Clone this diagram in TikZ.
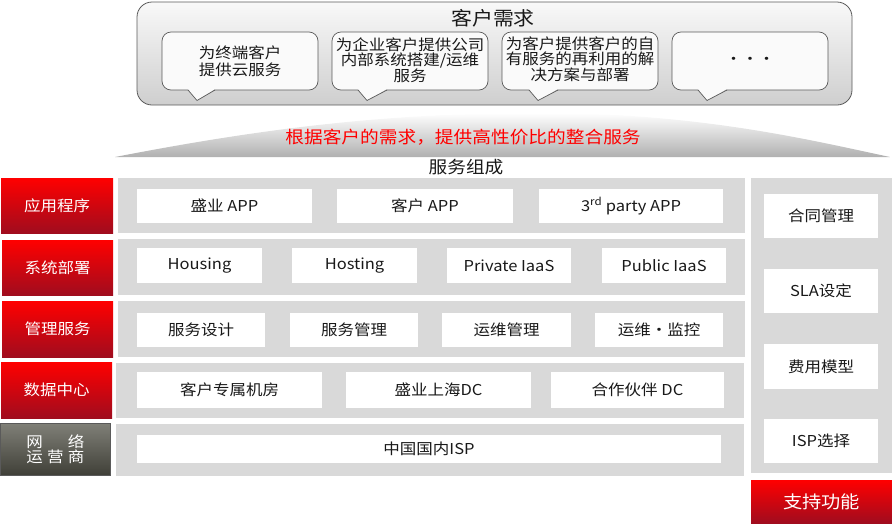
\documentclass[tikz,border=0pt]{standalone}
\usepackage{fontspec}
\setmainfont[FakeStretch=1.1]{Noto Sans CJK SC}
\definecolor{redtop}{RGB}{255,0,0}
\definecolor{redmid}{RGB}{214,14,22}
\definecolor{redbot}{RGB}{160,12,30}
\definecolor{graytop}{RGB}{128,128,120}
\definecolor{graybot}{RGB}{64,64,56}
\definecolor{panelgray}{RGB}{217,217,217}
\definecolor{edgegray}{RGB}{90,90,90}
\definecolor{txt}{RGB}{25,25,25}
\newcommand\rbox[7]{\node[#1, minimum width={(#5)-(#3)}, minimum height={(#6)-(#4)}] (#2) at ({((#3)+(#5))/2},{((#4)+(#6))/2}) {#7};}
\newcommand\spreadline[1]{\hbox to 58pt{#1}}
\begin{document}
\begin{tikzpicture}[x=1pt,y=-1pt,
  every node/.style={inner sep=0pt, outer sep=0pt},
  redlab/.style={top color=redtop, middle color=redmid, bottom color=redbot, text=white, font=\fontsize{15}{18}\selectfont},
  graylab/.style={top color=graytop, bottom color=graybot, draw=edgegray, line width=1pt, text=white, font=\fontsize{15}{18}\selectfont, align=center},
  panel/.style={fill=panelgray},
  wbox/.style={fill=white, text=txt, font=\fontsize{15}{18}\selectfont},
  bubble/.style={draw=edgegray, line width=0.7pt, fill=white!96!gray, rounded corners=9pt},
  bubtext/.style={text=txt, font=\fontsize{15}{15.5}\selectfont, align=center},
  outerbox/.style={draw=edgegray, line width=0.8pt, rounded corners=15pt, top color=gray!5, bottom color=gray!38}
]
\useasboundingbox (0,0) rectangle (892,523);
% customer needs box
\rbox{outerbox}{need}{137}{2}{852}{105}{}
\node[font=\fontsize{19}{22}\selectfont, text=txt] (needt) at (493,18) {客户需求};
% bubbles
\rbox{bubble}{b1}{162}{32}{318}{90}{}
\rbox{bubble}{b2}{332}{32}{488}{90}{}
\rbox{bubble}{b3}{502}{32}{658}{90}{}
\rbox{bubble}{b4}{672}{32}{828}{90}{}
\foreach \a/\t/\c in {188/197/215, 358/367/387, 529/538/558, 698/707/727}{
  \fill[white!96!gray] (\a,89) -- (\t,100.5) -- (\c,89) -- cycle;
  \draw[edgegray, line width=0.7pt, line join=round] (\a,90) -- (\t,100.5) -- (\c,90);
}
\node[bubtext, font=\fontsize{15}{17}\selectfont] (b1t) at (240,61) {为终端客户\\提供云服务};
\node[bubtext] (b2t) at (410,60) {为企业客户提供公司\\内部系统搭建/运维\\服务};
\node[bubtext] (b3t) at (580,59) {为客户提供客户的自\\有服务的再利用的解\\决方案与部署};
\node[bubtext] (b4t) at (750,61) {···};
% arch
\shade[top color=white, bottom color=gray!62] (115,157) .. controls (280,125) and (400,113) .. (540,113) .. controls (700,113) and (810,140) .. (890,157) -- cycle;
\node[text=redtop, font=\fontsize{17}{20}\selectfont] (slogan) at (463,137) {根据客户的需求，提供高性价比的整合服务};
\node[text=txt, font=\fontsize{17}{20}\selectfont] (comp) at (466,167) {服务组成};
% left labels
\rbox{redlab}{l1}{1}{178}{113}{233}{应用程序}
\rbox{redlab}{l2}{2}{240}{113}{295}{系统部署}
\rbox{redlab}{l3}{2}{301}{113}{357}{管理服务}
\rbox{redlab}{l4}{1}{362}{112}{418}{数据中心}
\rbox{graylab}{l5}{0.5}{423}{110.5}{475}{\spreadline{网\hfill 络}\\[-3pt]\spreadline{运\hfill 营\hfill 商}}
% panels
\rbox{panel}{p1}{118}{178}{745}{233}{}
\rbox{panel}{p2}{118}{239}{745}{295}{}
\rbox{panel}{p3}{118}{301}{745}{357}{}
\rbox{panel}{p4}{116}{363}{744}{418}{}
\rbox{panel}{p5}{116}{424}{744}{476}{}
\rbox{panel}{ps}{751}{178}{892}{473}{}
% row 1
\rbox{wbox}{a1}{137}{189}{312}{223}{盛业 APP}
\rbox{wbox}{a2}{337}{189}{513}{223}{客户 APP}
\rbox{wbox}{a3}{539}{189}{723}{223}{3\textsuperscript{rd} party APP}
% row 2
\rbox{wbox}{s1}{137}{248}{262}{283}{Housing}
\rbox{wbox}{s2}{292}{248}{417}{283}{Hosting}
\rbox{wbox}{s3}{447}{248}{571}{283}{Private IaaS}
\rbox{wbox}{s4}{602}{248}{726}{283}{Public IaaS}
% row 3
\rbox{wbox}{m1}{137}{313}{265}{347}{服务设计}
\rbox{wbox}{m2}{290}{313}{418}{347}{服务管理}
\rbox{wbox}{m3}{442}{313}{571}{347}{运维管理}
\rbox{wbox}{m4}{595}{313}{723}{347}{运维・监控}
% row 4
\rbox{wbox}{d1}{137}{372}{322}{408}{客户专属机房}
\rbox{wbox}{d2}{346}{372}{531}{408}{盛业上海DC}
\rbox{wbox}{d3}{551}{372}{724}{408}{合作伙伴 DC}
% row 5
\rbox{wbox}{n1}{137}{435}{721}{463}{中国国内ISP}
% support
\rbox{wbox}{r1}{764}{194}{878}{238}{合同管理}
\rbox{wbox}{r2}{764}{269}{878}{313}{SLA设定}
\rbox{wbox}{r3}{764}{344}{878}{389}{费用模型}
\rbox{wbox}{r4}{764}{419}{878}{463}{ISP选择}
\rbox{redlab}{sup}{751}{480}{892}{523}{\fontsize{17.5}{20}\selectfont 支持功能}
\end{tikzpicture}
\end{document}
